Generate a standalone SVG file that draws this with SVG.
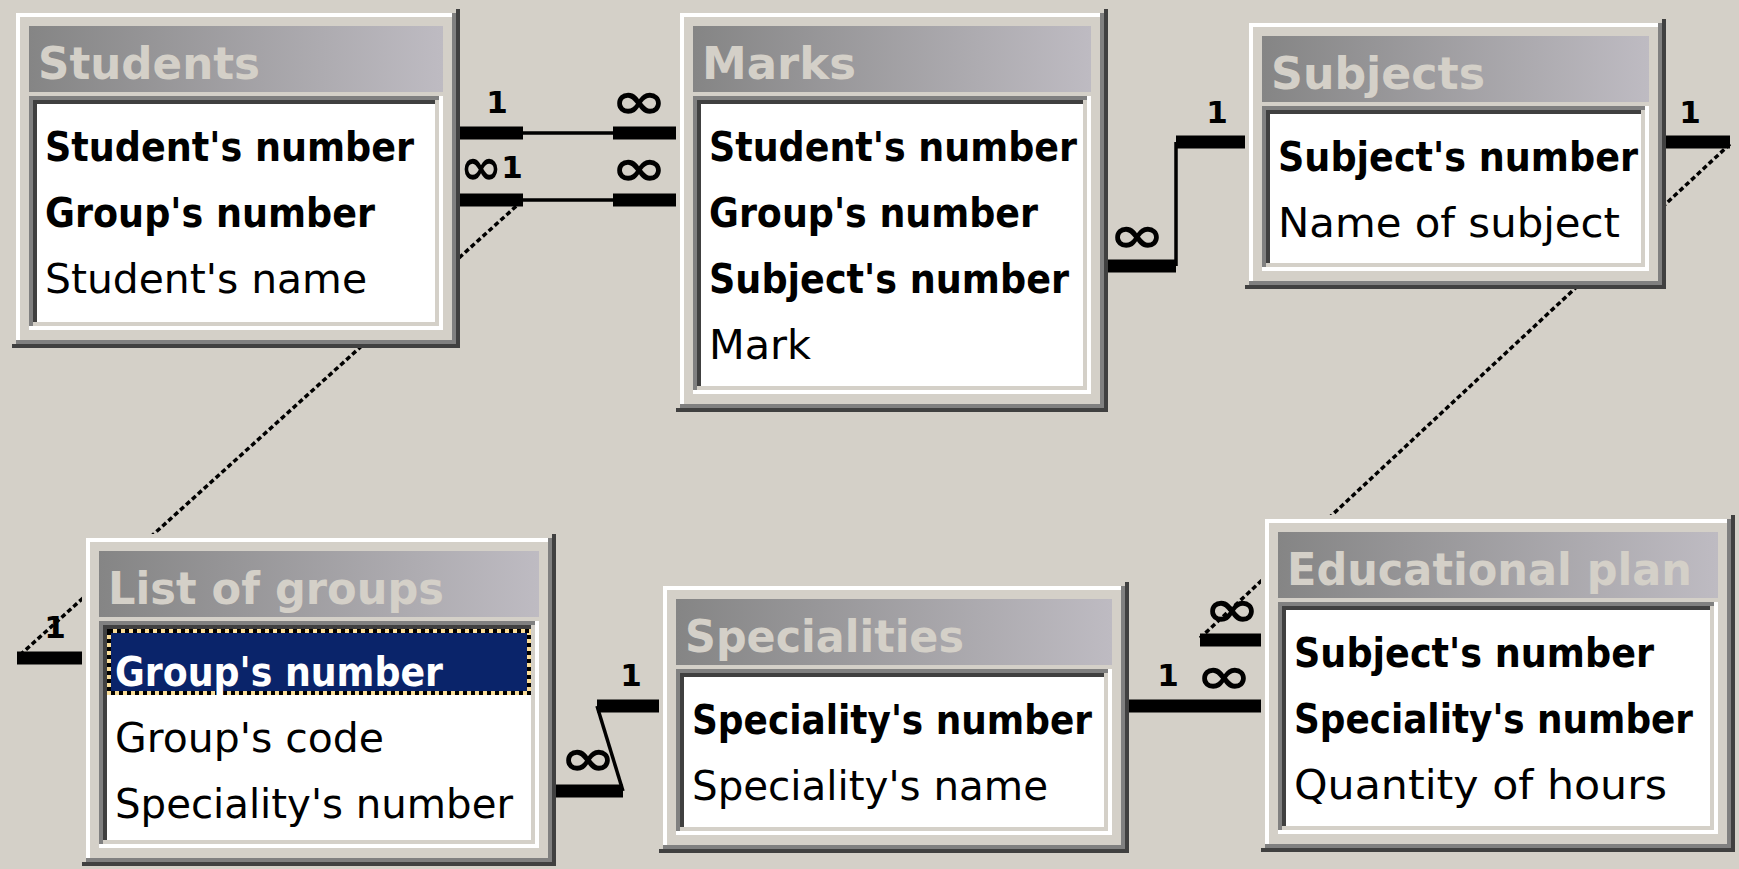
<svg xmlns="http://www.w3.org/2000/svg" width="1739" height="869" viewBox="0 0 1739 869">
  <defs>
    <linearGradient id="caption" x1="0" y1="0" x2="1" y2="0">
      <stop offset="0" stop-color="#858585"/>
      <stop offset="1" stop-color="#bebbc2"/>
    </linearGradient>
    <style>
      .face { fill: #d4d0c8; }
      .lit { fill: none; stroke: #ffffff; stroke-width: 4; }
      .mid { fill: none; stroke: #808080; stroke-width: 4; }
      .dark { fill: none; stroke: #404040; stroke-width: 4; }
      .soft { fill: none; stroke: #d4d0c8; stroke-width: 4; }
      .cap { fill: url(#caption); }
      .well { fill: #ffffff; }
      .ttl { font-family: "DejaVu Sans", Verdana, sans-serif; font-weight: bold; font-size: 44px; fill: #d4d0c8; }
      .fld { font-family: "DejaVu Sans", Verdana, sans-serif; font-size: 40px; fill: #000000; }
      .key { font-weight: bold; }
      .onsel { fill: #ffffff; }
      .sel { fill: #0a246a; }
      .selring { fill: none; stroke: #f8dc98; stroke-width: 4; }
      .seldots { fill: none; stroke: #000000; stroke-width: 4; stroke-dasharray: 4 4; }
      .stub { fill: none; stroke: #000000; stroke-width: 13; }
      .ln { fill: none; stroke: #000000; stroke-width: 3.5; }
      .diag { fill: none; stroke: #000000; stroke-width: 3.5; stroke-dasharray: 5 3; }
      .lbl { font-family: "DejaVu Sans", Verdana, sans-serif; font-weight: bold; font-size: 31px; fill: #000000; text-anchor: middle; }
      .inf { font-family: "DejaVu Sans", Verdana, sans-serif; font-weight: bold; font-size: 50px; fill: #000000; }
    </style>
  </defs>

  <rect x="0" y="0" width="1739" height="869" fill="#d4d0c8"/>

  <!-- relationship lines (drawn under the tables) -->
  <g id="connectors">
    <!-- Students.Student's number – Marks.Student's number -->
    <path class="stub" d="M460 133 H523"/>
    <path class="ln" d="M523 133 H613"/>
    <path class="stub" d="M613 133 H676"/>
    <text class="lbl" x="497" y="113">1</text>
    <text class="inf" x="611" y="118" textLength="56" lengthAdjust="spacingAndGlyphs">∞</text>

    <!-- Students.Group's number – Marks.Group's number -->
    <path class="stub" d="M460 200 H523"/>
    <path class="ln" d="M523 200 H613"/>
    <path class="stub" d="M613 200 H676"/>
    <text class="inf" x="460" y="184" textLength="42" lengthAdjust="spacingAndGlyphs">∞</text>
    <text class="lbl" x="512" y="178">1</text>
    <text class="inf" x="611" y="185" textLength="56" lengthAdjust="spacingAndGlyphs">∞</text>

    <!-- List of groups.Group's number – Students.Group's number -->
    <path class="stub" d="M17 658 H82"/>
    <path class="diag" d="M20 655 L523 200"/>
    <text class="lbl" x="55" y="638">1</text>

    <!-- Marks.Subject's number – Subjects.Subject's number -->
    <path class="stub" d="M1108 266 H1176"/>
    <path class="ln" d="M1176 266 V142"/>
    <path class="stub" d="M1176 142 H1245"/>
    <text class="inf" x="1109" y="252" textLength="56" lengthAdjust="spacingAndGlyphs">∞</text>
    <text class="lbl" x="1217" y="123">1</text>

    <!-- Subjects.Subject's number – Educational plan.Subject's number -->
    <path class="stub" d="M1666 142 H1730"/>
    <path class="diag" d="M1730 144 L1200 638"/>
    <path class="stub" d="M1200 640 H1261"/>
    <text class="lbl" x="1690" y="123">1</text>
    <text class="inf" x="1204" y="626" textLength="56" lengthAdjust="spacingAndGlyphs">∞</text>

    <!-- Specialities.Speciality's number – Educational plan.Speciality's number -->
    <path class="stub" d="M1129 706 H1261"/>
    <text class="lbl" x="1168" y="686">1</text>
    <text class="inf" x="1196" y="693" textLength="56" lengthAdjust="spacingAndGlyphs">∞</text>

    <!-- Specialities.Speciality's number – List of groups.Speciality's number -->
    <path class="stub" d="M556 791 H623"/>
    <path class="ln" d="M623 791 L597 706"/>
    <path class="stub" d="M597 706 H659"/>
    <text class="inf" x="560" y="775" textLength="56" lengthAdjust="spacingAndGlyphs">∞</text>
    <text class="lbl" x="631" y="686">1</text>
  </g>

  <!-- Students -->
  <g id="node-students">
    <rect class="face" x="12" y="9" width="448" height="339"/>
    <path class="lit" d="M18 340 V15 H452"/>
    <path class="mid" d="M16 342 H454 V13"/>
    <path class="dark" d="M12 346 H458 V9"/>
    <rect class="cap" x="29" y="26" width="414" height="66"/>
    <text class="ttl" x="38" y="79" textLength="222" lengthAdjust="spacingAndGlyphs">Students</text>
    <rect class="well" x="29" y="96" width="414" height="234"/>
    <path class="mid" d="M31 330 V98 H443"/>
    <path class="dark" d="M35 326 V102 H439"/>
    <path class="lit" d="M29 328 H441 V96"/>
    <path class="soft" d="M33 324 H437 V100"/>
    <text class="fld key" x="45" y="161" textLength="369" lengthAdjust="spacingAndGlyphs">Student's number</text>
    <text class="fld key" x="45" y="227" textLength="330" lengthAdjust="spacingAndGlyphs">Group's number</text>
    <text class="fld" x="45" y="293" textLength="322" lengthAdjust="spacingAndGlyphs">Student's name</text>
  </g>

  <!-- Marks -->
  <g id="node-marks">
    <rect class="face" x="676" y="9" width="432" height="403"/>
    <path class="lit" d="M682 404 V15 H1100"/>
    <path class="mid" d="M680 406 H1102 V13"/>
    <path class="dark" d="M676 410 H1106 V9"/>
    <rect class="cap" x="693" y="26" width="398" height="66"/>
    <text class="ttl" x="702" y="79" textLength="154" lengthAdjust="spacingAndGlyphs">Marks</text>
    <rect class="well" x="693" y="96" width="398" height="298"/>
    <path class="mid" d="M695 394 V98 H1091"/>
    <path class="dark" d="M699 390 V102 H1087"/>
    <path class="lit" d="M693 392 H1089 V96"/>
    <path class="soft" d="M697 388 H1085 V100"/>
    <text class="fld key" x="709" y="161" textLength="368" lengthAdjust="spacingAndGlyphs">Student's number</text>
    <text class="fld key" x="709" y="227" textLength="329" lengthAdjust="spacingAndGlyphs">Group's number</text>
    <text class="fld key" x="709" y="293" textLength="360" lengthAdjust="spacingAndGlyphs">Subject's number</text>
    <text class="fld" x="709" y="359" textLength="102" lengthAdjust="spacingAndGlyphs">Mark</text>
  </g>

  <!-- Subjects -->
  <g id="node-subjects">
    <rect class="face" x="1245" y="19" width="421" height="270"/>
    <path class="lit" d="M1251 281 V25 H1658"/>
    <path class="mid" d="M1249 283 H1660 V23"/>
    <path class="dark" d="M1245 287 H1664 V19"/>
    <rect class="cap" x="1262" y="36" width="387" height="66"/>
    <text class="ttl" x="1271" y="89" textLength="214" lengthAdjust="spacingAndGlyphs">Subjects</text>
    <rect class="well" x="1262" y="106" width="387" height="165"/>
    <path class="mid" d="M1264 271 V108 H1649"/>
    <path class="dark" d="M1268 267 V112 H1645"/>
    <path class="lit" d="M1262 269 H1647 V106"/>
    <path class="soft" d="M1266 265 H1643 V110"/>
    <text class="fld key" x="1278" y="171" textLength="360" lengthAdjust="spacingAndGlyphs">Subject's number</text>
    <text class="fld" x="1278" y="237" textLength="342" lengthAdjust="spacingAndGlyphs">Name of subject</text>
  </g>

  <!-- List of groups -->
  <g id="node-list-of-groups">
    <rect class="face" x="82" y="534" width="474" height="332"/>
    <path class="lit" d="M88 858 V540 H548"/>
    <path class="mid" d="M86 860 H550 V538"/>
    <path class="dark" d="M82 864 H554 V534"/>
    <rect class="cap" x="99" y="551" width="440" height="66"/>
    <text class="ttl" x="108" y="604" textLength="336" lengthAdjust="spacingAndGlyphs">List of groups</text>
    <rect class="well" x="99" y="621" width="440" height="227"/>
    <path class="mid" d="M101 848 V623 H539"/>
    <path class="dark" d="M105 844 V627 H535"/>
    <path class="lit" d="M99 846 H537 V621"/>
    <path class="soft" d="M103 842 H533 V625"/>
    <rect class="sel" x="107" y="629" width="424" height="66"/>
    <rect class="selring" x="109" y="631" width="420" height="62"/>
    <rect class="seldots" x="109" y="631" width="420" height="62"/>
    <text class="fld key onsel" x="115" y="686" textLength="328" lengthAdjust="spacingAndGlyphs">Group's number</text>
    <text class="fld" x="115" y="752" textLength="269" lengthAdjust="spacingAndGlyphs">Group's code</text>
    <text class="fld" x="115" y="818" textLength="398" lengthAdjust="spacingAndGlyphs">Speciality's number</text>
  </g>

  <!-- Specialities -->
  <g id="node-specialities">
    <rect class="face" x="659" y="582" width="470" height="271"/>
    <path class="lit" d="M665 845 V588 H1121"/>
    <path class="mid" d="M663 847 H1123 V586"/>
    <path class="dark" d="M659 851 H1127 V582"/>
    <rect class="cap" x="676" y="599" width="436" height="66"/>
    <text class="ttl" x="685" y="652" textLength="279" lengthAdjust="spacingAndGlyphs">Specialities</text>
    <rect class="well" x="676" y="669" width="436" height="166"/>
    <path class="mid" d="M678 835 V671 H1112"/>
    <path class="dark" d="M682 831 V675 H1108"/>
    <path class="lit" d="M676 833 H1110 V669"/>
    <path class="soft" d="M680 829 H1106 V673"/>
    <text class="fld key" x="692" y="734" textLength="400" lengthAdjust="spacingAndGlyphs">Speciality's number</text>
    <text class="fld" x="692" y="800" textLength="356" lengthAdjust="spacingAndGlyphs">Speciality's name</text>
  </g>

  <!-- Educational plan -->
  <g id="node-educational-plan">
    <rect class="face" x="1261" y="515" width="474" height="337"/>
    <path class="lit" d="M1267 844 V521 H1727"/>
    <path class="mid" d="M1265 846 H1729 V519"/>
    <path class="dark" d="M1261 850 H1733 V515"/>
    <rect class="cap" x="1278" y="532" width="440" height="66"/>
    <text class="ttl" x="1287" y="585" textLength="405" lengthAdjust="spacingAndGlyphs">Educational plan</text>
    <rect class="well" x="1278" y="602" width="440" height="232"/>
    <path class="mid" d="M1280 834 V604 H1718"/>
    <path class="dark" d="M1284 830 V608 H1714"/>
    <path class="lit" d="M1278 832 H1716 V602"/>
    <path class="soft" d="M1282 828 H1712 V606"/>
    <text class="fld key" x="1294" y="667" textLength="360" lengthAdjust="spacingAndGlyphs">Subject's number</text>
    <text class="fld key" x="1294" y="733" textLength="399" lengthAdjust="spacingAndGlyphs">Speciality's number</text>
    <text class="fld" x="1294" y="799" textLength="373" lengthAdjust="spacingAndGlyphs">Quantity of hours</text>
  </g>
</svg>
